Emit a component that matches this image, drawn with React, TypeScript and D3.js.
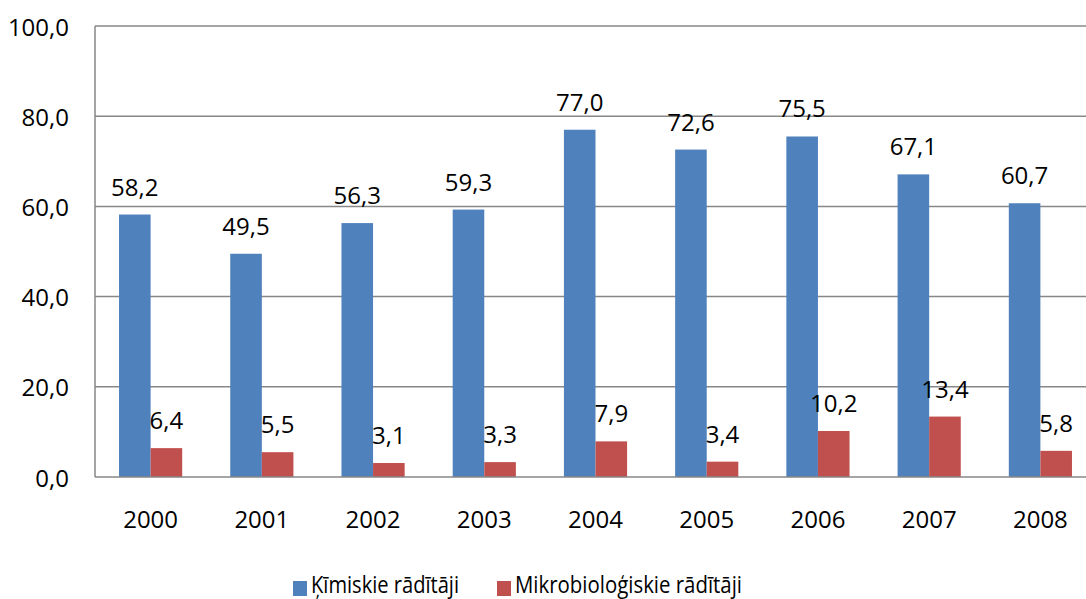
import React from "react";
import * as d3 from "d3";

const years = ["2000", "2001", "2002", "2003", "2004", "2005", "2006", "2007", "2008"];
const chemical = [58.2, 49.5, 56.3, 59.3, 77.0, 72.6, 75.5, 67.1, 60.7];
const microbio = [6.4, 5.5, 3.1, 3.3, 7.9, 3.4, 10.2, 13.4, 5.8];
const seriesNames = ["Ķīmiskie rādītāji", "Mikrobioloģiskie rādītāji"];
const seriesColors = ["#4F81BD", "#C0504D"];
const yTicks = [0, 20, 40, 60, 80, 100];

const W = 1086;
const H = 599;
const FONT = "'Open Sans', sans-serif";
const FS = 24;

export default function App() {
  const left = 95;
  const right = 1096;
  const top = 26;
  const bottom = 477;

  const x = d3.scaleBand<string>().domain(years).range([left, right]).paddingInner(0.432).paddingOuter(0.216);
  const y = d3.scaleLinear().domain([0, 100]).range([bottom, top]);
  const xs = d3.scaleBand<string>().domain(["0", "1"]).range([0, x.bandwidth()]);
  const fmt = (v: number) => v.toFixed(1).replace(".", ",");
  const series = [chemical, microbio];

  return (
    <svg width={W} height={H} style={{ position: "absolute", left: 0, top: 0, background: "#fff" }} fontFamily={FONT}>
      {yTicks.map((t) => (
        <g key={t}>
          {t > 0 && <line x1={left} x2={W} y1={y(t)} y2={y(t)} stroke="#878787" strokeWidth={1.5} />}
          <text x={69} y={y(t)} textAnchor="end" dominantBaseline="central" fontSize={FS} fill="#000">
            {fmt(t)}
          </text>
        </g>
      ))}
      {series.map((vals, si) =>
        vals.map((v, i) => {
          const bx = (x(years[i]) as number) + (xs(String(si)) as number);
          const bw = xs.bandwidth();
          return (
            <g key={`${si}-${i}`}>
              <rect x={bx} y={y(v)} width={bw} height={bottom - y(v)} fill={seriesColors[si]} />
              <text x={bx + bw / 2} y={y(v) - 19} textAnchor="middle" fontSize={FS} fill="#000">
                {fmt(v)}
              </text>
            </g>
          );
        })
      )}
      <line x1={left} x2={left} y1={top} y2={bottom} stroke="#878787" strokeWidth={1.5} />
      <line x1={left} x2={W} y1={bottom} y2={bottom} stroke="#878787" strokeWidth={1.5} />
      {years.map((yr) => (
        <text key={yr} x={(x(yr) as number) + x.bandwidth() / 2} y={528} textAnchor="middle" fontSize={FS} fill="#000">
          {yr}
        </text>
      ))}
      <g>
        <rect x={293} y={581} width={14} height={15} fill={seriesColors[0]} />
        <text x={311} y={593} fontSize={FS - 1} fill="#000" textLength={148} lengthAdjust="spacingAndGlyphs">
          {seriesNames[0]}
        </text>
        <rect x={497} y={581} width={14} height={15} fill={seriesColors[1]} />
        <text x={515} y={593} fontSize={FS - 1} fill="#000" textLength={227} lengthAdjust="spacingAndGlyphs">
          {seriesNames[1]}
        </text>
      </g>
    </svg>
  );
}
